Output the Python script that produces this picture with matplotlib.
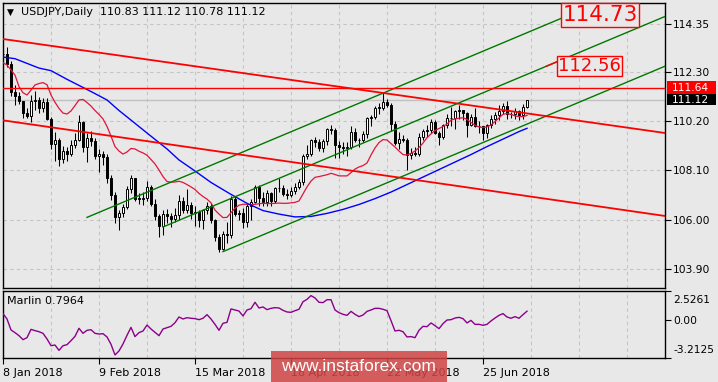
import matplotlib
matplotlib.use("Agg")
import matplotlib.pyplot as plt
import matplotlib.transforms as mtransforms
from matplotlib.patches import Rectangle
import numpy as np

# ---- data (bar index 0 = 8 Jan 2018, one bar per trading day) ----
x_labels = ['8 Jan 2018', '9 Feb 2018', '15 Mar 2018', '18 Apr 2018', '22 May 2018', '25 Jun 2018']
x_label_pos = [0, 24, 48, 72, 96, 120]

opens = [113.05, 113.09, 112.64, 111.43, 111.27, 111.05, 110.57, 110.44, 111.08, 111.10,
         110.77, 111.02, 110.29, 109.21, 109.40, 108.60, 108.95, 108.79, 109.18, 109.38,
         110.17, 109.10, 109.50, 109.34, 108.73, 108.80, 108.69, 107.78, 107.06, 106.12,
         106.28, 106.56, 107.33, 107.78, 106.90, 106.88, 106.91, 107.39, 106.67, 106.18,
         105.75, 106.23, 106.16, 106.05, 106.19, 106.80, 106.42, 106.62, 106.30, 106.34,
         105.97, 106.41, 106.60, 105.98, 105.27, 104.73, 105.41, 105.36, 106.87, 106.26,
         106.28, 105.92, 106.60, 106.76, 107.38, 106.93, 106.77, 107.16, 106.78, 107.34,
         107.37, 107.11, 107.04, 107.23, 107.38, 107.63, 108.70, 108.79, 109.42, 109.31,
         109.05, 109.34, 109.86, 109.84, 109.18, 109.10, 109.07, 109.11, 109.73, 109.40,
         109.38, 109.66, 110.33, 110.37, 110.77, 110.77, 111.03, 110.89, 110.10, 109.26,
         109.43, 109.39, 108.74, 108.86, 108.80, 109.52, 109.80, 109.83, 110.17, 109.71,
         109.55, 110.05, 110.36, 110.33, 110.62, 110.66, 110.54, 110.06, 110.37, 110.00,
         109.98, 109.69, 110.05, 110.28, 110.48, 110.65, 110.86, 110.52, 110.49, 110.64,
         110.45, 110.83]
highs = [113.30, 113.38, 112.79, 111.75, 111.45, 111.08, 110.75, 111.30, 111.48, 111.25,
         111.20, 111.20, 110.40, 109.75, 109.50, 109.15, 109.10, 109.40, 109.70, 110.48,
         110.20, 109.72, 109.80, 109.48, 109.00, 108.93, 108.80, 107.90, 107.20, 106.40,
         106.65, 107.45, 107.90, 107.80, 107.12, 107.20, 107.67, 107.50, 106.90, 106.25,
         106.40, 106.45, 106.30, 106.50, 107.05, 106.95, 107.30, 106.75, 106.60, 106.40,
         106.45, 106.75, 106.70, 106.05, 105.40, 105.50, 105.90, 107.00, 107.00, 106.40,
         106.50, 106.65, 106.90, 107.50, 107.50, 107.20, 107.25, 107.20, 107.40, 107.80,
         107.50, 107.30, 107.40, 107.55, 107.75, 108.80, 109.20, 109.45, 109.55, 109.45,
         109.45, 109.90, 110.05, 109.90, 109.35, 109.30, 109.30, 110.00, 109.90, 109.50,
         109.80, 110.40, 110.45, 110.85, 111.00, 111.40, 111.15, 111.00, 110.20, 109.75,
         109.60, 109.50, 109.05, 109.10, 109.70, 109.85, 110.05, 110.28, 110.27, 109.80,
         110.10, 110.50, 110.80, 110.70, 110.90, 110.70, 110.60, 110.50, 110.75, 110.20,
         110.00, 110.10, 110.45, 110.60, 110.90, 111.00, 111.05, 110.60, 110.75, 110.70,
         110.95, 111.12]
lows = [112.80, 112.50, 111.27, 110.90, 110.93, 110.34, 110.33, 110.19, 110.70, 110.54,
        110.60, 110.25, 109.00, 108.50, 108.28, 108.40, 108.50, 108.70, 109.05, 109.35,
        108.90, 108.45, 109.15, 108.60, 108.05, 108.35, 107.55, 106.84, 105.85, 105.55,
        106.10, 106.45, 107.15, 106.80, 106.65, 106.62, 106.80, 106.60, 106.00, 105.25,
        105.35, 105.85, 105.70, 105.90, 106.00, 106.30, 106.30, 106.05, 105.75, 105.70,
        105.60, 106.25, 105.85, 105.08, 104.63, 104.70, 105.00, 105.20, 106.15, 106.00,
        105.65, 105.70, 105.98, 106.70, 106.60, 106.60, 106.60, 106.60, 106.70, 107.20,
        107.00, 106.90, 106.95, 107.10, 107.30, 107.50, 108.60, 108.70, 109.10, 108.95,
        108.90, 109.20, 109.65, 108.65, 108.65, 108.80, 108.70, 109.00, 109.30, 109.10,
        109.30, 109.50, 110.00, 110.30, 110.50, 110.70, 110.80, 109.80, 109.20, 109.00,
        109.30, 108.10, 108.60, 108.70, 108.70, 109.40, 109.55, 109.70, 109.65, 109.20,
        109.45, 109.90, 110.00, 109.85, 110.30, 110.25, 109.55, 110.00, 109.95, 109.70,
        109.38, 109.50, 109.90, 110.10, 110.25, 110.50, 110.30, 110.35, 110.30, 110.25,
        110.30, 110.78]
closes = [113.09, 112.64, 111.43, 111.27, 111.05, 110.57, 110.44, 111.08, 111.10, 110.77,
          111.02, 110.29, 109.21, 109.40, 108.60, 108.95, 108.79, 109.18, 109.38, 110.17,
          109.10, 109.50, 109.34, 108.73, 108.80, 108.69, 107.78, 107.06, 106.12, 106.28,
          106.56, 107.33, 107.78, 106.90, 106.88, 106.91, 107.39, 106.67, 106.18, 105.75,
          106.23, 106.16, 106.05, 106.19, 106.80, 106.42, 106.62, 106.30, 106.34, 105.97,
          106.41, 106.60, 105.98, 105.27, 104.73, 105.41, 105.36, 106.87, 106.26, 106.28,
          105.92, 106.60, 106.76, 107.38, 106.93, 106.77, 107.16, 106.78, 107.34, 107.37,
          107.11, 107.04, 107.23, 107.38, 107.63, 108.70, 108.79, 109.42, 109.31, 109.05,
          109.34, 109.86, 109.84, 109.18, 109.10, 109.07, 109.11, 109.73, 109.40, 109.38,
          109.66, 110.33, 110.37, 110.77, 110.77, 111.03, 110.89, 110.10, 109.26, 109.43,
          109.39, 108.74, 108.86, 108.80, 109.52, 109.80, 109.83, 110.17, 109.71, 109.55,
          110.05, 110.36, 110.33, 110.62, 110.66, 110.54, 110.06, 110.37, 110.00, 109.98,
          109.69, 110.05, 110.28, 110.48, 110.65, 110.86, 110.52, 110.49, 110.64, 110.45,
          110.83, 111.12]

# fast moving average (red), one value per bar
ma_fast = [112.70, 112.60, 112.39, 112.17, 111.68, 111.42, 111.32, 111.53, 111.75, 111.81,
           111.85, 111.76, 111.32, 111.01, 110.75, 110.55, 110.51, 110.64, 110.87, 111.11,
           111.13, 111.00, 110.85, 110.66, 110.49, 110.30, 109.98, 109.57, 109.12, 108.93,
           108.80, 108.89, 109.04, 109.02, 108.92, 108.85, 108.75, 108.57, 108.38, 108.12,
           107.84, 107.63, 107.60, 107.61, 107.64, 107.59, 107.50, 107.40, 107.29, 107.12,
           106.99, 106.88, 106.72, 106.41, 106.24, 106.09, 106.10, 106.30, 106.49, 106.62,
           106.66, 106.66, 106.64, 106.66, 106.68, 106.70, 106.69, 106.69, 106.70, 106.71,
           106.70, 106.70, 106.72, 106.74, 106.80, 107.10, 107.40, 107.65, 107.81, 107.84,
           107.88, 107.92, 107.98, 107.93, 107.87, 107.87, 107.87, 108.01, 108.16, 108.25,
           108.31, 108.42, 108.76, 109.06, 109.29, 109.42, 109.40, 109.25, 109.10, 108.93,
           108.78, 108.76, 108.83, 108.93, 109.08, 109.27, 109.50, 109.66, 109.81, 109.89,
           109.98, 110.08, 110.25, 110.30, 110.33, 110.35, 110.28, 110.15, 110.03, 109.96,
           109.93, 109.96, 110.04, 110.19, 110.34, 110.50, 110.53, 110.49, 110.43, 110.40,
           110.40, 110.45]

# slow moving average (blue), read at these bars
ma_slow_idx = [0, 3, 6, 9, 12, 16, 19, 22, 26, 29, 32, 36, 41, 44, 48, 52, 57, 61, 65, 69,
               73, 77, 81, 85, 89, 93, 97, 101, 105, 109, 113, 117, 121, 125, 129, 131]
ma_slow = [112.94, 112.87, 112.67, 112.47, 112.36, 111.99, 111.73, 111.47, 111.11, 110.66,
           110.25, 109.70, 109.02, 108.55, 108.08, 107.59, 107.08, 106.70, 106.39, 106.24,
           106.12, 106.14, 106.27, 106.44, 106.65, 106.90, 107.18, 107.50, 107.82, 108.14,
           108.46, 108.78, 109.12, 109.44, 109.76, 109.90]

# Marlin oscillator, one value per bar
marlin = [0.59, 0.13, -0.81, -1.04, -1.30, -1.64, -1.47, -0.76, -0.87, -0.96,
          -1.10, -1.58, -2.16, -2.10, -2.56, -2.16, -2.07, -1.73, -1.36, -0.67,
          -1.10, -0.84, -0.79, -1.10, -1.16, -1.13, -1.41, -2.04, -2.95, -2.61,
          -2.01, -1.27, -0.59, -1.38, -1.04, -0.90, -0.39, -0.73, -1.01, -1.30,
          -0.73, -0.61, -0.50, -0.19, 0.30, 0.13, 0.24, 0.19, 0.16, 0.07,
          0.19, 0.50, 0.13, -0.33, -0.84, -0.24, -0.16, 0.99, 0.90, 0.81,
          0.39, 0.90, 1.01, 1.56, 1.07, 1.16, 0.93, 1.04, 1.10, 1.07,
          0.87, 0.73, 0.70, 0.84, 0.96, 1.61, 1.81, 2.13, 1.93, 1.56,
          1.53, 1.78, 1.78, 0.90, 0.67, 0.53, 0.44, 0.78, 0.53, 0.33,
          0.47, 0.78, 0.90, 1.04, 1.04, 0.96, 0.84, -0.01, -0.90, -0.84,
          -0.96, -1.41, -1.38, -1.47, -0.84, -0.50, -0.53, -0.21, -0.44, -0.70,
          -0.27, 0.04, 0.07, 0.21, 0.27, 0.16, -0.21, 0.01, -0.33, -0.33,
          -0.41, -0.33, -0.04, 0.21, 0.44, 0.59, 0.30, 0.19, 0.33, 0.19,
          0.50, 0.7964]

# channel (green) and trend (red) lines: two anchor points each (bar, price)
green_lines = [((21, 106.10), (95, 111.40)),
               ((40, 105.69), (136, 112.56)),
               ((55, 104.64), (150, 111.44))]
red_lines = [((0, 113.71), (165.5, 109.70)),
             ((0, 110.24), (165.5, 106.16))]
level_line = 111.64
bid_price = 111.12
target_labels = [(149.25, 114.73, 15.5), (146.6, 112.56, 13)]
price_ticks = [114.35, 112.30, 110.20, 108.10, 106.00, 103.90]
marlin_ticks = [2.5261, 0.00, -3.2125]

bg = '#e8e8e8'
grid_col = '#c4c4c4'
xmax = 165.5

fig = plt.figure(figsize=(7.18, 3.82), dpi=100, facecolor=bg)
ax = fig.add_axes([3 / 718, 94 / 382, 662 / 718, 285 / 382], facecolor=bg)
ax2 = fig.add_axes([3 / 718, 24 / 382, 662 / 718, 67 / 382], facecolor=bg)

idx = np.arange(len(closes))
o = np.array(opens)
c = np.array(closes)

# candles
ax.vlines(idx, lows, highs, color='black', linewidth=0.75, zorder=3)
body_bottom = np.minimum(o, c)
body_h = np.maximum(np.abs(c - o), 0.03)
body_col = ['white' if cc >= oo else 'black' for oo, cc in zip(o, c)]
ax.bar(idx, body_h, bottom=body_bottom, width=0.72, color=body_col,
       edgecolor='black', linewidth=0.7, zorder=4)

# moving averages
ax.plot(idx, ma_fast, color='#e0143c', linewidth=0.9, zorder=5)
ax.plot(ma_slow_idx, ma_slow, color='#0000ff', linewidth=1.0, zorder=5)

# channel lines (rays to the right)
for (x0, y0), (x1, y1) in green_lines:
    k = (y1 - y0) / (x1 - x0)
    ax.plot([x0, 175], [y0, y0 + k * (175 - x0)], color='#007800', linewidth=1.0, zorder=6)
for (x0, y0), (x1, y1) in red_lines:
    ax.plot([x0, x1], [y0, y1], color='#ff0000', linewidth=1.3, zorder=6)

# small red pointer on the middle channel line
(gx0, gy0), (gx1, gy1) = green_lines[1]
gk = (gy1 - gy0) / (gx1 - gx0)
ax.plot([135.9, 138.8], [gy0 + gk * (135.9 - gx0), gy0 + gk * (138.8 - gx0)],
        color='#ff0000', linewidth=1.0, zorder=7)

ax.axhline(level_line, color='#ff0000', linewidth=1.0, zorder=6)
ax.axhline(bid_price, color='#c0c0c0', linewidth=1.0, zorder=2)

# target labels
for lx, lv, fs in target_labels:
    ax.text(lx, lv, f'{lv:.2f}', color='#ff0000', fontsize=fs, ha='center', va='center',
            zorder=9, bbox=dict(boxstyle='square,pad=0.08', facecolor=bg,
                                edgecolor='#ff0000', linewidth=1.0))

# axes setup
ax.set_xlim(0, xmax)
ax.set_ylim(103.087, 115.246)
ax.set_xticks(np.arange(12, xmax, 12))
ax.tick_params(axis='x', length=0, labelbottom=False)
ax.yaxis.tick_right()
ax.set_yticks(price_ticks)
ax.set_yticklabels([f'{t:.2f}' for t in price_ticks])
ax.tick_params(axis='y', direction='out', length=4, width=0.8, pad=2, labelsize=7.7)
ax.grid(True, color=grid_col, linestyle=(0, (3, 3)), linewidth=0.8, zorder=0)
ax.set_axisbelow(True)
for s in ax.spines.values():
    s.set_color('black')
    s.set_linewidth(1.0)

# price tags on right axis
blend = mtransforms.blended_transform_factory(ax.transAxes, ax.transData)
ax.add_patch(Rectangle((1.003, level_line - 0.26), 0.074, 0.52, transform=blend,
                       facecolor='#ff0000', edgecolor='none', clip_on=False, zorder=10))
ax.text(1.0106, level_line, f'{level_line:.2f}', transform=blend, color='white',
        fontsize=7.7, ha='left', va='center', zorder=11, clip_on=False)
ax.add_patch(Rectangle((1.003, bid_price - 0.245), 0.074, 0.49, transform=blend,
                       facecolor='black', edgecolor='none', clip_on=False, zorder=10))
ax.text(1.0106, bid_price, f'{bid_price:.2f}', transform=blend, color='white',
        fontsize=7.7, ha='left', va='center', zorder=11, clip_on=False)

# title
ax.text(0.0115, 0.968, '\u25bc', transform=ax.transAxes, fontsize=6.5, ha='center',
        va='center', color='black')
ax.text(0.027, 0.968, 'USDJPY,Daily  110.83 111.12 110.78 111.12', transform=ax.transAxes,
        fontsize=8, ha='left', va='center', color='black')

# Marlin sub-window
ax2.plot(idx, marlin, color='#8b008b', linewidth=1.0, zorder=5)
ax2.set_xlim(0, xmax)
ax2.set_ylim(-3.2125, 2.5261)
ax2.set_xticks(x_label_pos)
ax2.set_xticklabels(x_labels)
ax2.set_xticks(np.arange(12, xmax, 12), minor=True)
ax2.tick_params(axis='x', which='major', direction='out', length=4, width=0.8, pad=3,
                labelsize=8)
ax2.tick_params(axis='x', which='minor', length=0)
for lab in ax2.get_xticklabels():
    lab.set_horizontalalignment('left')
ax2.grid(True, axis='x', which='both', color=grid_col, linestyle=(0, (3, 3)),
         linewidth=0.8, zorder=0)
ax2.yaxis.tick_right()
ax2.set_yticks(marlin_ticks)
ax2.set_yticklabels(['2.5261', '0.00', '-3.2125'])
ax2.tick_params(axis='y', direction='out', length=4, width=0.8, pad=2, labelsize=7.7)
ylabs = ax2.get_yticklabels()
ylabs[0].set_verticalalignment('top')
ylabs[0].set_transform(ylabs[0].get_transform() +
                       mtransforms.ScaledTranslation(0, -3 / 72, fig.dpi_scale_trans))
ylabs[2].set_verticalalignment('bottom')
ylabs[2].set_transform(ylabs[2].get_transform() +
                       mtransforms.ScaledTranslation(0, 2 / 72, fig.dpi_scale_trans))
for s in ax2.spines.values():
    s.set_color('black')
    s.set_linewidth(1.0)
ax2.text(0.006, 0.85, 'Marlin 0.7964', transform=ax2.transAxes, fontsize=8,
         ha='left', va='center', color='black')

# watermark
fig.patches.append(Rectangle((270.7 / 718, 0), 176.6 / 718, 31 / 382, transform=fig.transFigure,
                             facecolor='#d04545', alpha=0.85, edgecolor='none', zorder=20))
fig.text(358 / 718, 15.5 / 382, 'www.instaforex.com', color='white', fontsize=12.5,
         family='Liberation Sans', ha='center', va='center', zorder=21)

fig.savefig('out.png', dpi=100, facecolor=bg)
